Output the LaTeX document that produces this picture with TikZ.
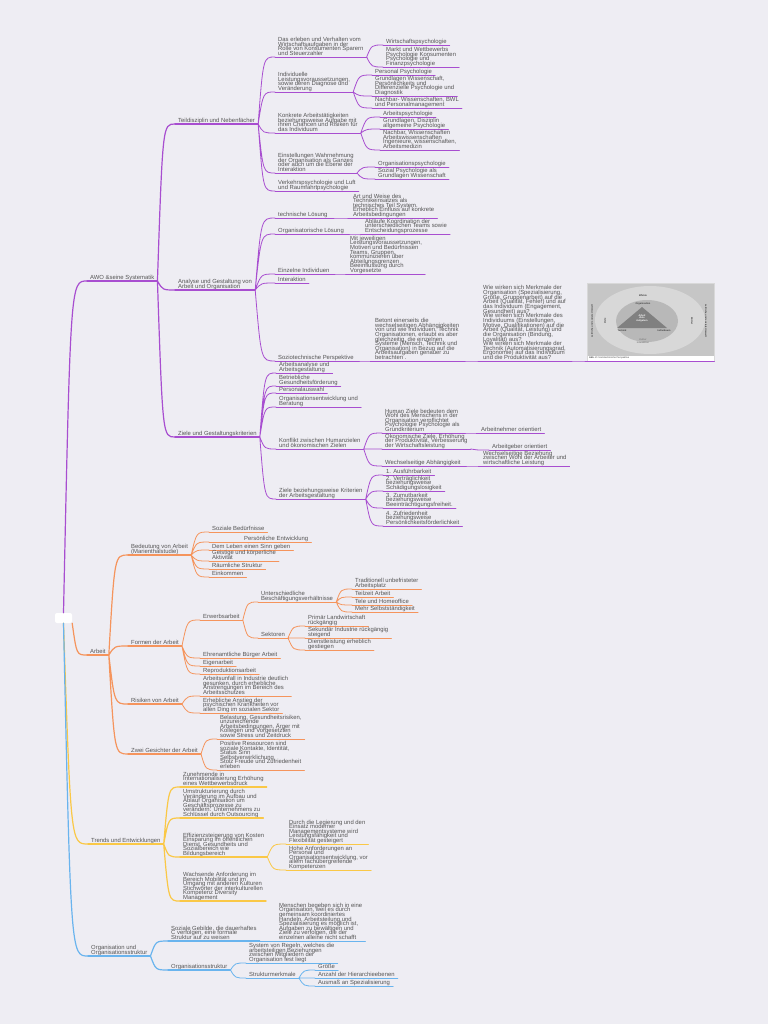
\documentclass[tikz,border=0pt]{standalone}
\usepackage{fontspec}
\setmainfont{Liberation Sans}
\usepackage{tikz}
\usetikzlibrary{calc}
\definecolor{bgc}{RGB}{238,237,243}
\definecolor{txt}{RGB}{85,85,85}
\definecolor{purp}{RGB}{168,78,208}
\definecolor{orng}{RGB}{245,148,92}
\definecolor{yell}{RGB}{250,200,70}
\definecolor{blau}{RGB}{105,180,238}
\definecolor{imgA}{RGB}{198,198,198}
\definecolor{imgB}{RGB}{216,216,216}
\definecolor{imgC}{RGB}{184,184,184}
\definecolor{imgD}{RGB}{128,128,128}
\tikzset{
  topic/.style={anchor=south west, align=left, inner xsep=3pt, inner ysep=-0.2pt,
    font=\fontsize{5.9}{4.65}\selectfont, text=txt,
    execute at begin node={\lineskiplimit=-5pt}, execute at end node={\strut}},
  line1/.style={draw=#1, line width=1.2pt, line cap=round},
  line2/.style={draw=#1, line width=0.8pt, line cap=round},
  t1/.style={topic, append after command={(\tikzlastnode.south west) edge[line1=#1] (\tikzlastnode.south east)}},
  t2/.style={topic, append after command={(\tikzlastnode.south west) edge[line2=#1] (\tikzlastnode.south east)}},
  conn/.style={to path={let \p1=(\tikztostart), \p2=(\tikztotarget) in
    .. controls ({\x1+0.3*(\x2-\x1)},\y2) .. (\tikztotarget)}},
  c1/.style={line1=#1, conn},
  c2/.style={line2=#1, conn},
  rootbox/.style={fill=white, rounded corners=2pt, minimum width=17pt, minimum height=10pt, inner sep=0pt},
  imgbox/.style={anchor=south west, fill=imgA, draw=imgB, minimum width=127pt, minimum height=78pt, inner sep=0pt,
    append after command={(\tikzlastnode.south west) edge[line2=purp] (\tikzlastnode.south east)}},
  imgtxt/.style={font=\fontsize{2.4}{2.6}\selectfont\bfseries, text=black!75, inner sep=0pt, align=center},
}
\begin{document}
\begin{tikzpicture}[x=1pt,y=-1pt]
  \fill[bgc] (0,0) rectangle (768,1024);
  \useasboundingbox (0,0) rectangle (768,1024);

  % root and main branches
  \node[rootbox] (root) at (63.5,618) {};
  \node[t1=purp] (awo) at (87,281) {AWO \&seine Systematik};
  \node[t1=orng] (arbeit) at (87,655) {Arbeit};
  \node[t1=yell] (trends) at (88,844) {Trends und Entwicklungen};
  \node[t1=blau] (org) at (88,956) {Organisation und\\Organisationsstruktur};

  % AWO
  \node[t1=purp] (teil) at (175,124) {Teildisziplin und Nebenfächer};
  \node[t1=purp] (ana) at (175,290) {Analyse und Gestaltung von\\Arbeit und Organisation};
  \node[t1=purp] (ziele) at (175,437) {Ziele und Gestaltungskriterien};

  \node[t2=purp] (wirt) at (275,57) {Das erleben und Verhalten vom\\Wirtschaftsaufgaben in der\\Rolle von Konsumenten Sparern\\und Steuerzahler};
  \node[t2=purp] (wirtA) at (383,45) {Wirtschaftspsychologie};
  \node[t2=purp] (wirtB) at (383,67) {Markt und Wettbewerbs\\Psychologie Konsumenten\\Psychologie und\\Finanzpsychologie};
  \node[t2=purp] (indiv) at (275,92) {Individuelle\\Leistungsvoraussetzungen,\\sowie deren Diagnose und\\Veränderung};
  \node[t2=purp] (persA) at (372,75) {Personal Psychologie};
  \node[t2=purp] (persB) at (372,96) {Grundlagen Wissenschaft,\\Persönlichkeits und\\Differenzielle Psychologie und\\Diagnostik};
  \node[t2=purp] (persC) at (372,108) {Nachbar- Wissenschaften, BWL\\und Personalmanagement};
  \node[t2=purp] (konk) at (275,133) {Konkrete Arbeitstätigkeiten\\beziehungsweise Aufgabe mit\\ihren Chancen und Risiken für\\das Individuum};
  \node[t2=purp] (apsyA) at (380,117) {Arbeitspsychologie};
  \node[t2=purp] (apsyB) at (380,129) {Grundlagen, Disziplin\\allgemeine Psychologie};
  \node[t2=purp] (apsyC) at (380,150) {Nachbar, Wissenschaften\\Arbeitswissenschaften\\Ingenieure, wissenschaften,\\Arbeitsmedizin};
  \node[t2=purp] (einst) at (275,173) {Einstellungen Wahrnehmung\\der Organisation als Ganzes\\oder auch um die Ebene der\\Interaktion};
  \node[t2=purp] (opsyA) at (375,167) {Organisationspsychologie};
  \node[t2=purp] (opsyB) at (375,179) {Sozial Psychologie als\\Grundlagen Wissenschaft};
  \node[t2=purp] (verk) at (275,191) {Verkehrspsychologie und Luft\\und Raumfahrtpsychologie};

  \node[t2=purp] (tech) at (275,218) {technische Lösung};
  \node[t2=purp] (techA) at (350,218) {Art und Weise des\\Technikeinsatzes als\\technisches Teil System.\\Erheblich Einfluss auf konkrete\\Arbeitsbedingungen};
  \node[t2=purp] (orgl) at (275,234) {Organisatorische Lösung};
  \node[t2=purp] (orglA) at (362,234) {Abläufe Koordination der\\unterschiedlichen Teams sowie\\Entscheidungsprozesse};
  \node[t2=purp] (einz) at (275,274) {Einzelne Individuen};
  \node[t2=purp] (einzA) at (347,274) {Mit jeweiligen\\Leistungsvoraussetzungen,\\Motiven und Bedürfnissen\\Teams, Gruppen,\\kommunizieren über\\Abteilungsgrenzen\\Beeinflussung durch\\Vorgesetzte};
  \node[t2=purp] (inter) at (275,283) {Interaktion};
  \node[t2=purp] (sozio) at (275,361) {Soziotechnische Perspektive};
  \node[t2=purp] (betont) at (372,361) {Betont einerseits die\\wechselseitigen Abhängigkeiten\\von und wie Individuen, Technik\\Organisationen, erlaubt es aber\\gleichzeitig, die einzelnen\\Systeme (Mensch, Technik und\\Organisation) in Bezug auf die\\Arbeitsaufgaben genauer zu\\betrachten .};
  \node[t2=purp] (wie) at (480,361) {Wie wirken sich Merkmale der\\Organisation (Spezialisierung,\\Größe, Gruppenarbeit) auf die\\Arbeit (Qualität, Fehler) und auf\\das Individuum (Engagement,\\Gesundheit) aus?\\ Wie wirken sich Merkmale des\\Individuums (Einstellungen,\\Motive, Qualifikationen) auf die\\Arbeit (Qualität, Leistung) und\\die Organisation (Bindung,\\Loyalität) aus?\\ Wie wirken sich Merkmale der\\Technik (Automatisierungsgrad,\\Ergonomie) auf das Individuum\\und die Produktivität aus?};
  \node[imgbox] (bild) at (587,361) {};

  % picture inside the box
  \fill[white] (587.5,355.5) rectangle (713.5,360.6);
  \node[imgtxt, anchor=west] (capt) at (589,358.2) {Abb. 2: \mdseries Soziotechnische Perspektive};
  \fill[imgB] (650,320) ellipse [x radius=55, y radius=34];
  \fill[imgC] (647,321) ellipse [x radius=31, y radius=21];
  \fill[imgD] (642,307) -- (617,328) -- (667,328) -- cycle;
  \node[imgtxt] (effekte) at (643,296) {Effekte};
  \node[imgtxt] (organis) at (643,304) {Organisation};
  \node[imgtxt, text=white] (arbziel) at (642,318) {Arbeit\\Ziele\\Aufgaben};
  \node[imgtxt] (technik) at (622,331) {Technik};
  \node[imgtxt] (individ) at (664,331) {Individuum};
  \node[imgtxt, text=black!50] (kultur) at (643,341) {Kultur\\Interaktion};
  \node[imgtxt, rotate=90] (zielimg) at (605,321) {Ziele};
  \node[imgtxt, rotate=-90] (mittel) at (692,321) {Mittel};
  \node[imgtxt, rotate=90] (umweltl) at (592,321) {zeitliche und soziale Umwelt};
  \node[imgtxt, rotate=-90] (umweltr) at (706,321) {zeitliche und soziale Umwelt};

  \node[t2=purp] (zAna) at (276,373) {Arbeitsanalyse und\\Arbeitsgestaltung};
  \node[t2=purp] (zBet) at (276,386) {Betriebliche\\Gesundheitsförderung};
  \node[t2=purp] (zPers) at (276,393) {Personalauswahl};
  \node[t2=purp] (zOrg) at (276,407) {Organisationsentwicklung und\\Beratung};
  \node[t2=purp] (konf) at (276,449) {Konflikt zwischen Humanzielen\\und ökonomischen Zielen};
  \node[t2=purp] (human) at (382,433) {Human Ziele bedeuten dem\\Wohl des Menschens in der\\Organisation verpflichtet\\Psychologie Psychologie als\\Grundkriterium};
  \node[t2=purp] (anor) at (478,433) {Arbeitnehmer orientiert};
  \node[t2=purp] (oeko) at (382,449) {Ökonomische Ziele, Erhöhung\\der Produktivität, Verbesserung\\der Wirtschaftsleistung};
  \node[t2=purp] (agor) at (489,450) {Arbeitgeber orientiert};
  \node[t2=purp] (wechs) at (382,466) {Wechselseitige Abhängigkeit};
  \node[t2=purp] (wechsA) at (480,466) {Wechselseitige Beziehung\\zwischen Wohl der Arbeiter und\\wirtschaftliche Leistung};
  \node[t2=purp] (krit) at (276,499) {Ziele beziehungsweise Kriterien\\der Arbeitsgestaltung};
  \node[t2=purp] (k1) at (383,475) {1. Ausführbarkeit};
  \node[t2=purp] (k2) at (383,491) {2. Verträglichkeit\\beziehungsweise\\Schädigungslosigkeit};
  \node[t2=purp] (k3) at (383,508) {3. Zumutbarkeit\\beziehungsweise\\Beeinträchtigungsfreiheit.};
  \node[t2=purp] (k4) at (383,526) {4. Zufriedenheit\\beziehungsweise\\Persönlichkeitsförderlichkeit};

  % Arbeit
  \node[t1=orng] (bed) at (128,555) {Bedeutung von Arbeit\\(Marienthalstudie)};
  \node[t2=orng] (b1) at (209,532) {Soziale Bedürfnisse};
  \node[t2=orng] (b2) at (209,542) {\hspace*{32pt}Persönliche Entwicklung};
  \node[t2=orng] (b3) at (209,550) {Dem Leben einen Sinn geben};
  \node[t2=orng] (b4) at (209,561) {Geistige und körperliche\\Aktivität};
  \node[t2=orng] (b5) at (209,569) {Räumliche Struktur};
  \node[t2=orng] (b6) at (209,577) {Einkommen};
  \node[t1=orng] (formen) at (128,646) {Formen der Arbeit};
  \node[t2=orng] (erw) at (200,620) {Erwerbsarbeit};
  \node[t2=orng] (untersch) at (258,602) {Unterschiedliche\\Beschäftigungsverhältnisse};
  \node[t2=orng] (u1) at (352,589) {Traditionell unbefristeter\\Arbeitsplatz};
  \node[t2=orng] (u2) at (352,597) {Teilzeit Arbeit};
  \node[t2=orng] (u3) at (352,605) {Tele und Homeoffice};
  \node[t2=orng] (u4) at (352,612) {Mehr Selbstständigkeit};
  \node[t2=orng] (sekt) at (258,638) {Sektoren};
  \node[t2=orng] (s1) at (305,626) {Primär Landwirtschaft\\rückgängig};
  \node[t2=orng] (s2) at (305,638) {Sekundär Industrie rückgängig\\steigend};
  \node[t2=orng] (s3) at (305,650) {Dienstleistung erheblich\\gestiegen};
  \node[t2=orng] (ehren) at (200,658) {Ehrenamtliche Bürger Arbeit};
  \node[t2=orng] (eigen) at (200,666) {Eigenarbeit};
  \node[t2=orng] (repro) at (200,674) {Reproduktionsarbeit};
  \node[t1=orng] (risiken) at (128,704) {Risiken von Arbeit};
  \node[t2=orng] (r1) at (200,696) {Arbeitsunfall in Industrie deutlich\\gesunken, durch erhebliche\\Anstrengungen im Bereich des\\Arbeitsschutzes};
  \node[t2=orng] (r2) at (200,713) {Erhebliche Anstieg der\\psychischen Krankheiten vor\\allen Ding im sozialen Sektor};
  \node[t1=orng] (zwei) at (128,754) {Zwei Gesichter der Arbeit};
  \node[t2=orng] (zw1) at (217,739) {Belastung, Gesundheitsrisiken,\\unzureichende\\Arbeitsbedingungen, Ärger mit\\Kollegen und Vorgesetzten\\sowie Stress und Zeitdruck};
  \node[t2=orng] (zw2) at (217,770) {Positive Ressourcen sind\\soziale Kontakte, Identität,\\Status Sinn\\Selbstverwirklichung\\Stolz Freude und Zufriedenheit\\erleben};

  % Trends
  \node[t1=yell] (tr1) at (180,787) {Zunehmende in\\Internationalisierung Erhöhung\\eines Wettbewerbsdruck};
  \node[t1=yell] (tr2) at (180,818) {Umstrukturierung durch\\Veränderung im Aufbau und\\Ablauf Organisation um\\Geschäftsprozesse zu\\verändern. Unternehmens zu\\Schlüssel durch Outsourcing};
  \node[t1=yell] (tr3) at (180,857) {Effizienzsteigerung von Kosten\\Einsparung im öffentlichen\\Dienst, Gesundheits und\\Sozialbereich wie\\Bildungsbereich};
  \node[t2=yell] (tr3a) at (286,844) {Durch die Legierung und den\\Einsatz moderner\\Managementsysteme wird\\Leistungsfähigkeit und\\Flexibilität gesteigert};
  \node[t2=yell] (tr3b) at (286,870) {Hohe Anforderungen an\\Personal und\\Organisationsentwicklung, vor\\allem fachübergreifende\\Kompetenzen};
  \node[t1=yell] (tr4) at (180,901) {Wachsende Anforderung im\\Bereich Mobilität und im\\Umgang mit anderen Kulturen\\Stichwörter der interkulturellen\\Kompetenz Diversity\\Management};

  % Organisation
  \node[t1=blau] (gebilde) at (168,941) {Soziale Gebilde, die dauerhaftes\\C verfolgen, eine formale\\Struktur auf zu weisen};
  \node[t2=blau] (menschen) at (276,941) {Menschen begeben sich in eine\\Organisation, weil es durch\\gemeinsam koordiniertes\\Handeln, Arbeitsteilung und\\Spezialisierung es möglich ist,\\Aufgaben zu bewältigen und\\Ziele zu verfolgen, die der\\einzelnen alleine nicht schafft};
  \node[t1=blau] (ostr) at (168,970) {Organisationsstruktur};
  \node[t2=blau] (regeln) at (246,963) {System von Regeln, welches die\\arbeitsteiligen Beziehungen\\zwischen Mitgliedern der\\Organisation fest liegt};
  \node[t2=blau] (merk) at (246,978) {Strukturmerkmale};
  \node[t2=blau] (m1) at (315,970) {Größe};
  \node[t2=blau] (m2) at (315,978) {Anzahl der Hierarchieebenen};
  \node[t2=blau] (m3) at (315,986) {Ausmaß an Spezialisierung};

  % connectors
  \draw[c1=purp] (root.north) to (awo.south west);
  \draw[c1=orng] (root.south east) to (arbeit.south west);
  \draw[c1=yell] (root.south) to (trends.south west);
  \draw[c1=blau] (root.south) to (org.south west);

  \draw[c1=purp] (awo.south east) to (teil.south west) (awo.south east) to (ana.south west)
    (awo.south east) to (ziele.south west);
  \draw[c2=purp] (teil.south east) to (wirt.south west) (teil.south east) to (indiv.south west)
    (teil.south east) to (konk.south west) (teil.south east) to (einst.south west)
    (teil.south east) to (verk.south west);
  \draw[c2=purp] (wirt.south east) to (wirtA.south west) (wirt.south east) to (wirtB.south west);
  \draw[c2=purp] (indiv.south east) to (persA.south west) (indiv.south east) to (persB.south west)
    (indiv.south east) to (persC.south west);
  \draw[c2=purp] (konk.south east) to (apsyA.south west) (konk.south east) to (apsyB.south west)
    (konk.south east) to (apsyC.south west);
  \draw[c2=purp] (einst.south east) to (opsyA.south west) (einst.south east) to (opsyB.south west);

  \draw[c2=purp] (ana.south east) to (tech.south west) (ana.south east) to (orgl.south west)
    (ana.south east) to (einz.south west) (ana.south east) to (inter.south west)
    (ana.south east) to (sozio.south west);
  \draw[c2=purp] (tech.south east) to (techA.south west);
  \draw[c2=purp] (orgl.south east) to (orglA.south west);
  \draw[c2=purp] (einz.south east) to (einzA.south west);
  \draw[c2=purp] (sozio.south east) to (betont.south west);
  \draw[c2=purp] (betont.south east) to (wie.south west);
  \draw[c2=purp] (wie.south east) to (bild.south west);

  \draw[c2=purp] (ziele.south east) to (zAna.south west) (ziele.south east) to (zBet.south west)
    (ziele.south east) to (zPers.south west) (ziele.south east) to (zOrg.south west)
    (ziele.south east) to (konf.south west) (ziele.south east) to (krit.south west);
  \draw[c2=purp] (konf.south east) to (human.south west) (konf.south east) to (oeko.south west)
    (konf.south east) to (wechs.south west);
  \draw[c2=purp] (human.south east) to (anor.south west);
  \draw[c2=purp] (oeko.south east) to (agor.south west);
  \draw[c2=purp] (wechs.south east) to (wechsA.south west);
  \draw[c2=purp] (krit.south east) to (k1.south west) (krit.south east) to (k2.south west)
    (krit.south east) to (k3.south west) (krit.south east) to (k4.south west);

  \draw[c1=orng] (arbeit.south east) to (bed.south west) (arbeit.south east) to (formen.south west)
    (arbeit.south east) to (risiken.south west) (arbeit.south east) to (zwei.south west);
  \draw[c2=orng] (bed.south east) to (b1.south west) (bed.south east) to (b2.south west)
    (bed.south east) to (b3.south west) (bed.south east) to (b4.south west)
    (bed.south east) to (b5.south west) (bed.south east) to (b6.south west);
  \draw[c2=orng] (formen.south east) to (erw.south west) (formen.south east) to (ehren.south west)
    (formen.south east) to (eigen.south west) (formen.south east) to (repro.south west);
  \draw[c2=orng] (erw.south east) to (untersch.south west) (erw.south east) to (sekt.south west);
  \draw[c2=orng] (untersch.south east) to (u1.south west) (untersch.south east) to (u2.south west)
    (untersch.south east) to (u3.south west) (untersch.south east) to (u4.south west);
  \draw[c2=orng] (sekt.south east) to (s1.south west) (sekt.south east) to (s2.south west)
    (sekt.south east) to (s3.south west);
  \draw[c2=orng] (risiken.south east) to (r1.south west) (risiken.south east) to (r2.south west);
  \draw[c2=orng] (zwei.south east) to (zw1.south west) (zwei.south east) to (zw2.south west);

  \draw[c1=yell] (trends.south east) to (tr1.south west) (trends.south east) to (tr2.south west)
    (trends.south east) to (tr3.south west) (trends.south east) to (tr4.south west);
  \draw[c2=yell] (tr3.south east) to (tr3a.south west) (tr3.south east) to (tr3b.south west);

  \draw[c1=blau] (org.south east) to (gebilde.south west) (org.south east) to (ostr.south west);
  \draw[c2=blau] (gebilde.south east) to (menschen.south west);
  \draw[c2=blau] (ostr.south east) to (regeln.south west) (ostr.south east) to (merk.south west);
  \draw[c2=blau] (merk.south east) to (m1.south west) (merk.south east) to (m2.south west)
    (merk.south east) to (m3.south west);
\end{tikzpicture}
\end{document}
